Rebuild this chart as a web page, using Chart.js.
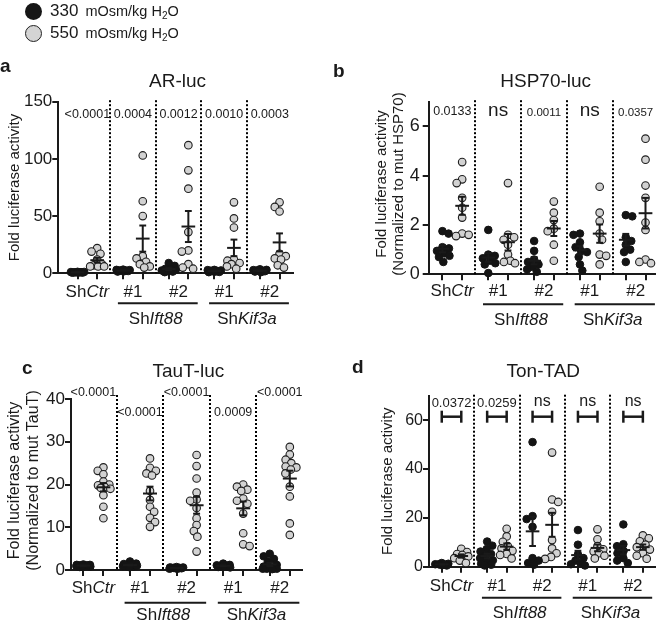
<!DOCTYPE html>
<html><head><meta charset="utf-8">
<script src="https://cdn.jsdelivr.net/npm/chart.js@4.4.1/dist/chart.umd.min.js"></script>
<style>
html,body{margin:0;padding:0;background:#fff;}
body{width:660px;height:624px;position:relative;overflow:hidden;font-family:"Liberation Sans",Arial,sans-serif;color:#1a1a1a;}
canvas{position:absolute;}
.t{position:absolute;white-space:nowrap;line-height:1;}
.dot{position:absolute;border-radius:50%;box-sizing:border-box;}
</style></head><body>
<canvas id="ca" width="330" height="330" style="left:0;top:0"></canvas>
<canvas id="cb" width="330" height="330" style="left:330px;top:0"></canvas>
<canvas id="cc" width="330" height="294" style="left:0;top:330px"></canvas>
<canvas id="cd" width="330" height="294" style="left:330px;top:330px"></canvas>

<div class="dot" style="left:25px;top:3px;width:17px;height:17px;background:#161616"></div>
<div class="dot" style="left:25px;top:25px;width:17px;height:17px;background:#d4d4d4;border:1.5px solid #222"></div>
<div class="t" id="leg1" style="left:50px;top:2.3px"><span style="font-size:17px">330</span><span style="font-size:14.5px;margin-left:7px">mOsm/kg H<span style="font-size:10px;position:relative;top:3px">2</span>O</span></div>
<div class="t" id="leg2" style="left:50px;top:23.9px"><span style="font-size:17px">550</span><span style="font-size:14.5px;margin-left:7px">mOsm/kg H<span style="font-size:10px;position:relative;top:3px">2</span>O</span></div>

<div class="t" style="left:0;top:55.9px;font-size:19px;font-weight:bold">a</div>
<div class="t" style="left:333px;top:60.6px;font-size:19px;font-weight:bold">b</div>
<div class="t" style="left:22px;top:357.9px;font-size:19px;font-weight:bold">c</div>
<div class="t" style="left:352px;top:356.9px;font-size:19px;font-weight:bold">d</div>

<div class="t" style="left:77.5px;width:200px;text-align:center;top:70.6px;font-size:19px">AR-luc</div>
<div class="t" style="left:445.7px;width:200px;text-align:center;top:71.2px;font-size:19px">HSP70-luc</div>
<div class="t" style="left:88.3px;width:200px;text-align:center;top:360.6px;font-size:19px">TauT-luc</div>
<div class="t" style="left:443.3px;width:200px;text-align:center;top:361.2px;font-size:19px">Ton-TAD</div>

<script>
// ---------- shared labels ----------
const groupLabels = ['ShCtr', '#1', '#2', '#1', '#2'];
const geneLabels = ['ShIft88', 'ShKif3a'];

// ---------- a: AR-luc ----------
const arTicks = [0, 50, 100, 150];
const arBlack = [
  [1.0, 0.6, 1.2, 0.8, 0.5, 1.1, 0.9, 0.7, 1.3],
  [2.5, 3.0, 2.0, 1.5, 2.2, 2.8, 1.8, 2.4, 3.2],
  [9.0, 6.5, 4.0, 3.0, 2.0, 1.5, 1.0, 2.5, 3.5],
  [2.0, 1.5, 2.5, 3.0, 1.0, 2.2, 1.8, 2.8, 1.2],
  [3.0, 2.0, 2.5, 1.0, 1.5, 2.2, 3.5, 1.8, 2.8]
];
const arGrey = [
  [22, 19, 17, 12, 8, 7, 6, 6, 6],
  [103, 63, 50, 15, 13, 10, 8, 6, 5],
  [112, 90, 74, 36, 20, 19, 8, 5, 4],
  [62, 48, 40, 12, 11, 9, 8, 6, 4],
  [62, 58, 54, 17, 15, 13, 12, 7, 5]
];
const arP = ['<0.0001', '0.0004', '0.0012', '0.0010', '0.0003'];

// ---------- b: HSP70-luc ----------
const hspTicks = [0, 2, 4, 6];
const hspBlack = [
  [1.65, 1.75, 1.1, 1.05, 0.95, 0.85, 0.75, 0.7, 0.5],
  [1.8, 0.8, 0.75, 0.65, 0.55, 0.45, 0.4, 0.05],
  [1.35, 0.95, 0.6, 0.5, 0.4, 0.3, 0.2, 0.1],
  [1.65, 1.6, 1.3, 1.1, 0.95, 0.9, 0.7, 0.4, 0.15],
  [2.4, 2.35, 1.5, 1.35, 1.2, 1.0, 0.9, 0.5]
];
const hspGrey = [
  [4.55, 3.85, 3.7, 3.1, 2.7, 2.3, 1.65, 1.6, 1.55],
  [3.7, 1.6, 1.5, 1.4, 1.2, 0.8, 0.55, 0.5, 0.45],
  [2.95, 2.5, 2.2, 1.85, 1.75, 1.2, 0.55],
  [3.55, 2.5, 2.15, 1.65, 1.4, 0.8, 0.75, 0.4],
  [5.5, 4.65, 3.6, 3.1, 2.1, 1.8, 0.6, 0.5, 0.45]
];
const hspP = ['0.0133', 'ns', '0.0011', 'ns', '0.0357'];

// ---------- c: TauT-luc ----------
const tautTicks = [0, 10, 20, 30, 40];
const tautBlack = [
  [1.0, 1.2, 0.8, 1.1, 0.9, 1.3, 0.7, 1.0, 1.2, 0.9, 1.1, 1.0],
  [2.0, 1.5, 1.0, 1.2, 0.8, 1.0, 1.3, 0.9, 1.1, 0.7, 1.4, 1.0],
  [0.5, 0.4, 0.6, 0.3, 0.5, 0.7, 0.4, 0.5, 0.6, 0.3],
  [1.5, 1.0, 0.8, 1.2, 0.6, 1.0, 0.9, 1.1, 0.7],
  [3.8, 3.2, 2.6, 2.0, 1.2, 0.8, 0.5, 0.4, 0.3, 0.3, 0.2, 0.3]
];
const tautGrey = [
  [24, 23.2, 22.4, 20.7, 20, 19.8, 19.5, 19.2, 19, 17.5, 14.8, 12.1],
  [26.1, 23.9, 23.2, 22.6, 22.1, 18.5, 16.4, 14.8, 13.6, 12.2, 11.2, 10.1],
  [26.9, 24.3, 21.4, 18.1, 16.5, 16.2, 14.5, 12.1, 10.5, 9.1, 7.8, 4.3],
  [20, 19.5, 18.8, 18.5, 16.7, 16.2, 15.5, 13.2, 8.6, 6, 5.6],
  [28.8, 27, 25.8, 25, 24.2, 24, 23.5, 22.6, 19.5, 17.2, 10.9, 8.2]
];
const tautP = ['<0.0001', '<0.0001', '<0.0001', '0.0009', '<0.0001'];

// ---------- d: Ton-TAD ----------
const tonTicks = [0, 20, 40, 60];
const tonBlack = [
  [1.0, 0.8, 1.2, 0.5, 1.5, 0.7, 1.0, 0.9],
  [10.3, 8.6, 7.2, 6.2, 5.2, 4.4, 3.5, 2.6, 1.8, 1.2, 0.8, 0.5],
  [51, 20.7, 19.5, 16.3, 3.5, 2.5, 1.5, 0.8],
  [15, 9, 5, 3.5, 2.5, 1.5, 1, 0.5],
  [17.3, 9.2, 8.4, 6.5, 5.5, 3.5, 2.5, 1.5]
];
const tonGrey = [
  [7.3, 6, 5.2, 4.8, 4.2, 3.5, 2.5, 1.5],
  [15.5, 12.4, 10.2, 8.4, 7.5, 6.5, 5.2, 4.8, 3.4],
  [46.7, 27.5, 26.5, 22.5, 10.9, 7.5, 5.5, 4, 3.2],
  [15.3, 11.2, 8.4, 7.1, 6.2, 5.5, 4.5, 3.4],
  [12.8, 11.6, 10.4, 9, 8, 7, 5.5, 4.5, 3.3]
];
const tonP = ['0.0372', '0.0259', 'ns', 'ns', 'ns'];

// ---------- layout / style ----------
const FONT = '"Liberation Sans", Arial, sans-serif';
const INK = '#1a1a1a';
const HALF = 0.215; // half distance between the two series of a group (x units)

const panels = {
  ca: { box: {x: 0, y: 0, w: 330, h: 330}, area: {l: 58.3, t: 101.7, r: 293, b: 273.3},
        xMin: -0.637, xMax: 4.51, yMax: 150, yTicks: arTicks, black: arBlack, grey: arGrey,
        pvals: arP, pFont: [12.5, 12.5, 12.5, 12.5, 12.5], pDy: [13.3, 13.3, 13.3, 13.3, 13.3],
        tickFont: 17, tickPad: 0, yTitle: ['Fold luciferase activity'], yTitleFont: 15, yTitleX: [15], yTitleDy: 0,
        catDy: 19.2, ulDy: 30, nameDy: 45.9, sepTop: 1.5, brackets: false },
  cb: { box: {x: 330, y: 0, w: 330, h: 330}, area: {l: 428.7, t: 101.7, r: 655, b: 274.3},
        xMin: -0.515, xMax: 4.42, yMax: 7, yTicks: hspTicks, black: hspBlack, grey: hspGrey,
        pvals: hspP, pFont: [12.5, 19, 11.5, 19, 11.5], pDy: [10, 9.5, 11, 9.5, 11],
        tickFont: 18, tickPad: 3, yTitle: ['Fold luciferase activity', '(Normalized to mut HSP70)'], yTitleFont: 15, yTitleX: [51.7, 69.3], yTitleDy: -4,
        catDy: 17.4, ulDy: 30, nameDy: 45.7, sepTop: 1.5, brackets: false },
  cc: { box: {x: 0, y: 330, w: 330, h: 294}, area: {l: 71, t: 399, r: 301.7, b: 570},
        xMin: -0.48, xMax: 4.47, yMax: 40, yTicks: tautTicks, black: tautBlack, grey: tautGrey,
        pvals: tautP, pFont: [12.5, 12.5, 12.5, 12.5, 12.5], pDy: [-6.3, 13.3, -6.3, 13.3, -6.3],
        tickFont: 17, tickPad: 0, yTitle: ['Fold luciferase activity', '(Normalized to mut TauT)'], yTitleFont: 16, yTitleX: [15, 33.3], yTitleDy: -4,
        catDy: 18.3, ulDy: 32.7, nameDy: 45, sepTop: 4, brackets: false },
  cd: { box: {x: 330, y: 330, w: 330, h: 294}, area: {l: 429, t: 395.7, r: 655, b: 566.7},
        xMin: -0.496, xMax: 4.48, yMax: 70, yTicks: tonTicks, black: tonBlack, grey: tonGrey,
        pvals: tonP, pFont: [13, 13, 16, 16, 16], pDy: [7.6, 7.6, 6.3, 6.3, 6.3],
        tickFont: 16, tickPad: 0, yTitle: ['Fold luciferase activity'], yTitleFont: 15, yTitleX: [58.3], yTitleDy: 0,
        catDy: 20, ulDy: 31, nameDy: 46.7, sepTop: 1, brackets: true, bracketDy: 21 }
};

function stats(v) {
  const n = v.length, m = v.reduce((s, a) => s + a, 0) / n;
  const sd = Math.sqrt(v.reduce((s, a) => s + (a - m) * (a - m), 0) / (n - 1));
  return { m, sem: sd / Math.sqrt(n) };
}

function seg(ctx, x1, y1, x2, y2) { ctx.beginPath(); ctx.moveTo(x1, y1); ctx.lineTo(x2, y2); ctx.stroke(); }

function drawLabel(ctx, label, cx, cy, size) {
  // "Sh" upright, gene name italic
  let parts = [[label, false]];
  if (label.startsWith('Sh') && label.length > 2) parts = [['Sh', false], [label.slice(2), true]];
  const fonts = parts.map(p => (p[1] ? 'italic ' : '') + size + 'px ' + FONT);
  let w = 0; const ws = [];
  parts.forEach((p, i) => { ctx.font = fonts[i]; const ww = ctx.measureText(p[0]).width; ws.push(ww); w += ww; });
  let x = cx - w / 2;
  ctx.textAlign = 'left'; ctx.textBaseline = 'middle';
  parts.forEach((p, i) => { ctx.font = fonts[i]; ctx.fillText(p[0], x, cy); x += ws[i]; });
}

const annot = {
  id: 'annot',
  beforeDatasetsDraw(chart) {
    const P = panels[chart.canvas.id];
    const { ctx, chartArea: a, scales: { x } } = chart;
    ctx.save();
    ctx.strokeStyle = '#000'; ctx.lineWidth = 2; ctx.setLineDash([2, 2]);
    for (let g = 0; g < groupLabels.length - 1; g++) {
      const px = Math.round(x.getPixelForValue(g + 0.5));
      seg(ctx, px, a.top - P.sepTop, px, a.bottom);
    }
    ctx.restore();
  },
  afterDatasetsDraw(chart) {
    const P = panels[chart.canvas.id];
    const { ctx, chartArea: a, scales: { x, y } } = chart;
    ctx.save();
    ctx.strokeStyle = INK; ctx.fillStyle = INK; ctx.lineWidth = 2; ctx.setLineDash([]);
    const hw = x.getPixelForValue(0.15) - x.getPixelForValue(0);
    const cw = hw * 0.5;
    // mean ± SEM
    [[P.black, -1], [P.grey, 1]].forEach(([ser, side]) => {
      ser.forEach((vals, g) => {
        const s = stats(vals);
        const cx = x.getPixelForValue(g + side * HALF);
        const ym = y.getPixelForValue(s.m), yt = y.getPixelForValue(s.m + s.sem), yb = y.getPixelForValue(s.m - s.sem);
        seg(ctx, cx - hw, ym, cx + hw, ym);
        seg(ctx, cx, yt, cx, yb);
        seg(ctx, cx - cw, yt, cx + cw, yt);
        seg(ctx, cx - cw, yb, cx + cw, yb);
      });
    });
    // p values
    ctx.textAlign = 'center'; ctx.textBaseline = 'middle';
    P.pvals.forEach((t, g) => {
      ctx.font = P.pFont[g] + 'px ' + FONT;
      ctx.fillText(t, x.getPixelForValue(g), a.top + P.pDy[g]);
    });
    // brackets (panel d)
    if (P.brackets) {
      ctx.lineWidth = 2.5;
      const by = a.top + P.bracketDy;
      groupLabels.forEach((_, g) => {
        const x1 = x.getPixelForValue(g - HALF), x2 = x.getPixelForValue(g + HALF);
        seg(ctx, x1, by, x2, by);
        seg(ctx, x1, by - 6, x1, by + 6);
        seg(ctx, x2, by - 6, x2, by + 6);
      });
    }
    // category labels
    groupLabels.forEach((t, g) => drawLabel(ctx, t, x.getPixelForValue(g), a.bottom + P.catDy, 17));
    // gene underlines + names
    ctx.lineWidth = 2;
    geneLabels.forEach((t, k) => {
      const g1 = 1 + 2 * k, g2 = g1 + 1;
      const xa = x.getPixelForValue(g1 - 0.33), xb = x.getPixelForValue(g2 + 0.42);
      seg(ctx, xa, a.bottom + P.ulDy, xb, a.bottom + P.ulDy);
      drawLabel(ctx, t, x.getPixelForValue((g1 + g2) / 2), a.bottom + P.nameDy, 17);
    });
    ctx.restore();
  },
  afterDraw(chart) {
    const P = panels[chart.canvas.id];
    const { ctx, chartArea: a } = chart;
    ctx.save();
    ctx.fillStyle = INK; ctx.font = P.yTitleFont + 'px ' + FONT;
    ctx.textAlign = 'center'; ctx.textBaseline = 'middle';
    P.yTitle.forEach((line, i) => {
      ctx.save();
      ctx.translate(P.yTitleX[i], (a.top + a.bottom) / 2 + P.yTitleDy);
      ctx.rotate(-Math.PI / 2);
      ctx.fillText(line, 0, 0);
      ctx.restore();
    });
    ctx.restore();
  }
};

function buildPoints(ser, side) {
  const pts = [];
  ser.forEach((vals, g) => vals.forEach(v => pts.push({ x: g + side * HALF, y: v, c: g + side * HALF })));
  return pts;
}

// beeswarm: spread points horizontally so they do not overlap (pixel space, via scales)
function swarm(chart) {
  const x = chart.scales.x, y = chart.scales.y;
  const ux = x.getPixelForValue(1) - x.getPixelForValue(0);
  const D = 6.6, maxW = 7;
  let flip = false;
  chart.data.datasets.forEach(ds => {
    const byC = new Map();
    ds.data.forEach(p => { if (!byC.has(p.c)) byC.set(p.c, []); byC.get(p.c).push(p); });
    byC.forEach(pts => {
      pts.forEach(p => { p.py = y.getPixelForValue(p.y); });
      const order = pts.slice().sort((p, q) => p.py - q.py);
      const placed = [];
      order.forEach(p => {
        const cands = [0];
        placed.forEach(q => {
          const dy = p.py - q.py;
          if (Math.abs(dy) < D) { const dx = Math.sqrt(D * D - dy * dy); cands.push(q.ox + dx, q.ox - dx); }
        });
        flip = !flip;
        cands.sort((a, b) => (Math.abs(a) - Math.abs(b)) || (flip ? a - b : b - a));
        const fits = c => placed.every(q => (q.ox - c) ** 2 + (q.py - p.py) ** 2 >= D * D - 0.01);
        let best = null;
        for (const c of cands) { if (Math.abs(c) <= maxW && fits(c)) { best = c; break; } }
        if (best === null) {
          let bd = -1;
          for (let c = -maxW; c <= maxW; c += 0.5) {
            const md = Math.min(...placed.map(q => Math.hypot(q.ox - c, q.py - p.py)));
            if (md > bd + 1e-6) { bd = md; best = c; }
          }
        }
        p.ox = best;
        placed.push(p);
        p.x = p.c + best / ux;
      });
    });
  });
  chart.update('none');
}

function makeChart(id) {
  const P = panels[id];
  const yW = P.area.l - P.box.x;
  const xH = 8;
  const pad = { left: 0, top: P.area.t - P.box.y, right: P.box.x + P.box.w - P.area.r, bottom: P.box.y + P.box.h - P.area.b - xH };
  const xTickVals = [];
  groupLabels.forEach((_, g) => { xTickVals.push(g - HALF, g + HALF); });
  const axisGrid = { display: true, drawOnChartArea: false, drawTicks: true, tickLength: 6, color: INK, lineWidth: 2 };
  const axisBorder = { display: true, color: INK, width: 2 };
  const chart = new Chart(document.getElementById(id), {
    type: 'scatter',
    data: {
      datasets: [
        { label: '330 mOsm/kg H2O', data: buildPoints(P.black, -1), backgroundColor: '#141414', borderColor: '#141414', borderWidth: 1, pointRadius: 3.8, clip: false },
        { label: '550 mOsm/kg H2O', data: buildPoints(P.grey, 1), backgroundColor: '#d2d2d2', borderColor: '#1e1e1e', borderWidth: 1.1, pointRadius: 3.8, clip: false }
      ]
    },
    options: {
      responsive: false, animation: false, devicePixelRatio: 1, events: [],
      layout: { padding: pad },
      plugins: { legend: { display: false }, tooltip: { enabled: false }, title: { display: false } },
      scales: {
        x: {
          type: 'linear', min: P.xMin, max: P.xMax,
          afterBuildTicks: s => { s.ticks = xTickVals.map(v => ({ value: v })); },
          afterFit: s => { s.height = xH; },
          ticks: { display: false, autoSkip: false },
          grid: axisGrid, border: axisBorder
        },
        y: {
          type: 'linear', min: 0, max: P.yMax,
          afterBuildTicks: s => { s.ticks = P.yTicks.map(v => ({ value: v })); },
          afterFit: s => { s.width = yW; },
          ticks: { autoSkip: false, color: INK, padding: P.tickPad, font: { family: FONT, size: P.tickFont } },
          grid: axisGrid, border: axisBorder
        }
      }
    },
    plugins: [annot]
  });
  swarm(chart);
  return chart;
}

['ca', 'cb', 'cc', 'cd'].forEach(makeChart);
</script>
</body></html>
